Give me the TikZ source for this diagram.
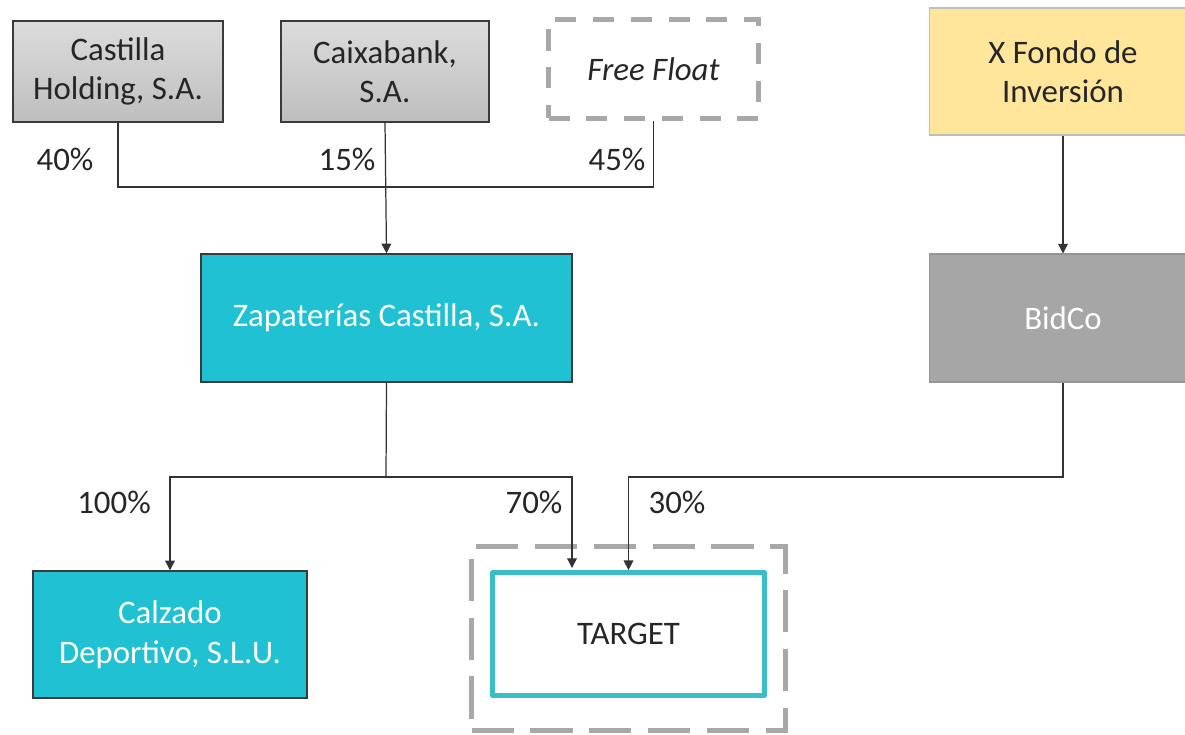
\documentclass[tikz,border=0pt]{standalone}
\usepackage{fontspec}
\setmainfont{Carlito}
\usetikzlibrary{positioning,arrows.meta}
\definecolor{graytop}{HTML}{DCDCDC}
\definecolor{graybottom}{HTML}{BEBEBE}
\definecolor{boxborder}{HTML}{3A3A3A}
\definecolor{teal}{HTML}{20C1D3}
\definecolor{tealframe}{HTML}{3BBCC9}
\definecolor{bidgray}{HTML}{A6A6A6}
\definecolor{fondoyellow}{HTML}{FFE69A}
\definecolor{dashgray}{HTML}{A8A8A8}
\newcommand{\boxfont}{\fontsize{18.7}{22.5}\selectfont}

\tikzset{
  holder/.style={draw=boxborder,line width=0.8pt,top color=graytop,bottom color=graybottom,
    align=center,font=\boxfont,text=black!85,inner sep=0pt},
  company/.style={draw=boxborder,line width=0.8pt,fill=teal,align=center,
    font=\boxfont,text=white,inner sep=0pt},
  dashframe/.style={draw=dashgray,line width=2.8pt,dash pattern=on 12pt off 9.5pt,inner sep=0pt},
  widedash/.style={draw=dashgray,line width=3.2pt,dash pattern=on 24pt off 9.5pt,inner sep=0pt},
  pct/.style={font=\boxfont,text=black!85,anchor=base},
  link/.style={line width=0.7pt,draw=black!80},
  arrowlink/.style={link,-{Triangle[length=5.5pt,width=5.5pt]}}
}

\begin{document}
\begin{tikzpicture}[x=0.02cm,y=-0.02cm]
    \useasboundingbox (0,0) rectangle (1185,734);

    % Shareholders
    \node[holder,minimum width=4.2cm,minimum height=2.02cm] (castilla) at (118,71.5) {Castilla\\Holding, S.A.};
    \node[holder,minimum width=4.16cm,minimum height=2.02cm] (caixa) at (385,71.5) {Caixabank,\\S.A.};
    \node[dashframe,minimum width=4.2cm,minimum height=1.98cm,font=\boxfont\itshape,text=black!85] (freefloat) at (653.5,69) {Free Float};

    % Fund and BidCo
    \node[draw=graybottom,line width=0.6pt,fill=fondoyellow,align=center,font=\boxfont,text=black!85,
      minimum width=5.36cm,minimum height=2.54cm] (fondo) at (1063,71.5) {X Fondo de\\Inversión};
    \node[draw=bidgray!90!black,line width=0.6pt,fill=bidgray,font=\boxfont,text=white,
      minimum width=5.36cm,minimum height=2.56cm] (bidco) at (1063,318) {BidCo};

    % Group companies
    \node[company,minimum width=7.42cm,minimum height=2.56cm] (zapaterias) at (386.5,318) {Zapaterías Castilla, S.A.};
    \node[company,minimum width=5.48cm,minimum height=2.54cm] (calzado) at (170,634.5) {Calzado\\Deportivo, S.L.U.};

    % Target
    \node[widedash,minimum width=6.28cm,minimum height=3.68cm] (targetframe) at (628.5,638.5) {};
    \node[draw=tealframe,line width=3pt,line join=round,fill=white,font=\boxfont,text=black!85,
      minimum width=5.44cm,minimum height=2.45cm] (target) at (628.5,634) {TARGET};

    % Upper connectors
    \coordinate (jointop) at (386,187);
    \draw[link] (castilla.south) |- (jointop) -| (freefloat.south);
    \draw[arrowlink] (caixa.south) -- (zapaterias.north);
    \draw[arrowlink] (fondo.south) -- (bidco.north);

    % Lower connectors
    \coordinate (joinlow) at (386,477);
    \coordinate (bidturn) at (1063,477);
    \coordinate (in70) at (572,568);
    \draw[link] (zapaterias.south) -- (joinlow);
    \draw[arrowlink] (joinlow) -| (calzado.north);
    \draw[arrowlink] (joinlow) -| (in70);
    \draw[arrowlink] (bidco.south) -- (bidturn) -| (target.north);

    % Percentages
    \node[pct] (p40) at (65,170) {40\%};
    \node[pct] (p15) at (347,170) {15\%};
    \node[pct] (p45) at (617,170) {45\%};
    \node[pct] (p100) at (114,513) {100\%};
    \node[pct] (p70) at (534,513) {70\%};
    \node[pct] (p30) at (677,513) {30\%};
  \end{tikzpicture}
\end{document}
